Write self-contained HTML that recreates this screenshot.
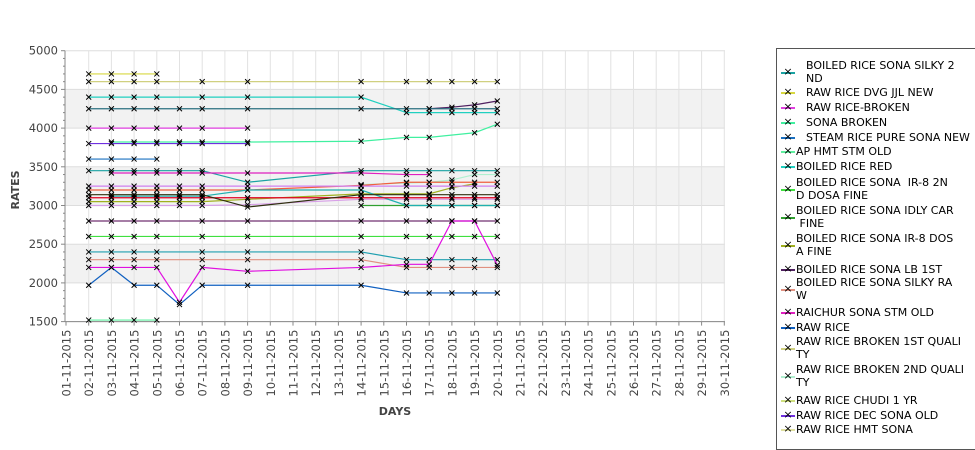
<!DOCTYPE html>
<html><head><meta charset="utf-8"><style>
body{margin:0;background:#fff;width:975px;height:429px;overflow:hidden;font-family:"DejaVu Sans","Liberation Sans",sans-serif;}
#legend{position:absolute;left:776px;top:48px;width:210px;height:400px;border:1px solid #555;background:#fff;}
.li{position:absolute;left:0;font-size:11px;color:#000;line-height:13px;white-space:nowrap;}
.li .mk{position:absolute;left:4px;width:14px;height:13px;}
.li .mk .ln{position:absolute;left:0;top:6px;width:14px;height:2px;}
.li .mk .x{position:absolute;left:0;top:-1px;width:14px;text-align:center;font-size:11px;color:#000;}
.li .tx{position:absolute;left:27px;}
</style></head><body>
<svg id="chart" width="975" height="429" style="position:absolute;left:0;top:0" xmlns="http://www.w3.org/2000/svg"></svg>
<div id="legend"></div>
<script>
const categories=["01-11-2015","02-11-2015","03-11-2015","04-11-2015","05-11-2015","06-11-2015","07-11-2015","08-11-2015","09-11-2015","10-11-2015","11-11-2015","12-11-2015","13-11-2015","14-11-2015","15-11-2015","16-11-2015","17-11-2015","18-11-2015","19-11-2015","20-11-2015","21-11-2015","22-11-2015","23-11-2015","24-11-2015","25-11-2015","26-11-2015","27-11-2015","28-11-2015","29-11-2015","30-11-2015"];
const yTicks=[1500,2000,2500,3000,3500,4000,4500,5000];
const seriesColors=["#1aa3a3","#d8d840","#e040e0","#40f0a0","#1a70c0","#60f0a0","#20d0c0","#40e040","#30a030","#a0b020","#502060","#e09080","#e020c0","#1060c0","#d0d080","#b0f0d0","#d8a0e8","#7030e0","#e0e0a0","#2a6f80","#f06040","#20b0b0","#d080f0","#e00020","#703070","#303010","#20a0b0","#e010e0"];
// category indexes with data
const D=[1,2,3,4,5,6,8,13,15,16,17,18,19];
const s0=[3450,3450,3450,3450,3450,3450,3300,3450,3450,3450,3450,3450,3450];
const s1=[4700,4700,4700,4700,null,null,null,null,null,null,null,null,null];
const s2=[4000,4000,4000,4000,4000,4000,4000,null,null,null,null,null,null];
const s3=[null,3820,3820,3820,3820,3820,3820,3830,3880,3880,null,3940,4050];
const s4=[3600,3600,3600,3600,null,null,null,null,null,null,null,null,null];
const s5=[1520,1520,1520,1520,null,null,null,null,null,null,null,null,null];
const s6=[4400,4400,4400,4400,null,4400,4400,4400,4200,4200,4200,4200,4200];
const s7=[2600,2600,2600,2600,null,2600,2600,2600,2600,2600,2600,2600,2600];
const s8=[null,null,null,null,null,null,null,3000,3000,3000,3000,3000,3000];
const s9=[3050,3050,3050,3050,3050,3050,3080,3150,3150,3150,3230,3280,null];
const s10=[null,null,null,null,null,null,null,null,null,4250,4270,4300,4350];
const s11=[2300,2300,2300,2300,null,2300,2300,2300,2200,2200,2200,2200,2200];
const s12=[null,3420,3420,3420,3420,3420,3420,3420,3400,3400,null,null,null];
const s13=[1970,2200,1970,1970,1720,1970,1970,1970,1870,1870,1870,1870,1870];
const s14=[4600,4600,4600,4600,null,4600,4600,4600,4600,4600,4600,4600,4600];
const s15=[null,null,null,null,null,null,null,3270,3290,3300,3330,3400,3400];
const s16=[3000,3000,3000,3000,3000,3000,3010,3080,3080,3080,3080,3080,3080];
const s17=[3800,3800,3800,3800,3800,3800,3800,null,null,null,null,null,null];
const s18=[null,null,null,null,null,null,null,null,null,null,null,null,null];
const s19=[4250,4250,4250,4250,4250,4250,4250,4250,4250,4250,4250,4250,4250];
const s20=[3200,3200,3200,3200,3200,3200,3200,3260,3300,3300,3300,3300,3300];
const s21=[null,3120,3120,3120,3120,3120,3200,3200,3000,3000,3000,3000,3000];
const s22=[3250,3250,3250,3250,3250,3250,3250,3250,3250,3250,3250,3250,3250];
const s23=[3100,3100,3100,3100,3100,3100,3100,3100,3100,3100,3100,3100,3100];
const s24=[2800,2800,2800,2800,null,2800,2800,2800,2800,2800,2800,2800,2800];
const s25=[3140,3140,3140,3140,3140,3140,2980,3140,3140,3140,3140,3140,3140];
const s26=[2400,2400,2400,2400,null,2400,2400,2400,2300,2300,2300,2300,2300];
const s27=[2200,2200,2200,2200,1750,2200,2150,2200,2240,2240,2800,2800,2230];
const seriesData=[s0,s1,s2,s3,s4,s5,s6,s7,s8,s9,s10,s11,s12,s13,s14,s15,s16,s17,s18,s19,s20,s21,s22,s23,s24,s25,s26,s27];

const NS="http://www.w3.org/2000/svg";
const svg=document.getElementById('chart');
const L=65,R=725,T=50.7,B=321.6;
const x=i=>66+22.7*i;
const y=v=>B-(v-1500)/3500*(B-T);
function el(t,a,p){const e=document.createElementNS(NS,t);for(const k in a)e.setAttribute(k,a[k]);(p||svg).appendChild(e);return e;}
for(let k=0;k<yTicks.length-1;k++){
  if(k%2===1){const b=el('rect',{x:L,y:y(yTicks[k+1]),width:R-L,height:y(yTicks[k])-y(yTicks[k+1]),fill:'#f2f2f2'});
  
  }
}
yTicks.forEach(v=>{const g=el('line',{x1:L,x2:R,y1:y(v),y2:y(v),stroke:'#ddd','stroke-width':1});


const t=el('text',{x:58,y:y(v)+4,'text-anchor':'end','font-size':11.5,fill:'#444'});t.textContent=v;


el('line',{x1:L-4,x2:L,y1:y(v),y2:y(v),stroke:'#888'});});
for(let v=1500;v<5000;v+=100){if(v%500)el('line',{x1:L-2,x2:L,y1:y(v),y2:y(v),stroke:'#888'});}
categories.forEach((c,i)=>{if(i>0){const g=el('line',{x1:x(i),x2:x(i),y1:T,y2:B,stroke:'#e2e2e2'});

}
el('line',{x1:x(i),x2:x(i),y1:B,y2:B+4,stroke:'#888'});
const t=el('text',{x:0,y:0,'text-anchor':'end','font-size':11.5,fill:'#444',transform:`translate(${x(i)+4.5},${B+8}) rotate(-90)`});t.textContent=c;

});
el('line',{x1:L,x2:L,y1:T,y2:B,stroke:'#888'});
el('line',{x1:L,x2:R,y1:B,y2:B,stroke:'#888'});
let at=el('text',{x:0,y:0,'font-size':11,'font-weight':'bold',fill:'#444','text-anchor':'middle',transform:'translate(19,190) rotate(-90)'});at.textContent='RATES';


at=el('text',{x:395,y:415,'font-size':11,'font-weight':'bold',fill:'#444','text-anchor':'middle'});at.textContent='DAYS';


seriesData.forEach((s,si)=>{
  const g=el('g',{});
  
  
  const pts=[];
  s.forEach((v,k)=>{if(v!=null)pts.push(x(D[k])+','+y(v));});
  if(pts.length>1)el('polyline',{points:pts.join(' '),fill:'none',stroke:seriesColors[si],'stroke-width':1.2},g);
  s.forEach((v,k)=>{if(v==null)return;const px=x(D[k]),py=y(v);
    const m=el('path',{d:`M${px-2.5},${py-2.5}L${px+2.5},${py+2.5}M${px-2.5},${py+2.5}L${px+2.5},${py-2.5}`,stroke:'#000','stroke-width':1},g);
    
    });
});
// legend: [line1, line2, top, color, indent]
const legItems=[["BOILED RICE SONA SILKY 2","ND",10,"#1aa3a3",1],["RAW RICE DVG JJL NEW","",37,"#d8d840",1],["RAW RICE-BROKEN","",52,"#e040e0",1],["SONA BROKEN","",67,"#40f0a0",1],["STEAM RICE PURE SONA NEW","",82,"#1a70c0",1],["AP HMT STM OLD","",96,"#60f0a0",0],["BOILED RICE RED","",111,"#20d0c0",0],["BOILED RICE SONA  IR-8 2N","D DOSA FINE",127,"#40e040",0],["BOILED RICE SONA IDLY CAR"," FINE",155,"#30a030",0],["BOILED RICE SONA IR-8 DOS","A FINE",183,"#a0b020",0],["BOILED RICE SONA LB 1ST","",214,"#502060",0],["BOILED RICE SONA SILKY RA","W",227,"#e09080",0],["RAICHUR SONA STM OLD","",257,"#e020c0",0],["RAW RICE","",272,"#1060c0",0],["RAW RICE BROKEN 1ST QUALI","TY",286,"#d0d080",0],["RAW RICE BROKEN 2ND QUALI","TY",314,"#b0f0d0",0],["RAW RICE CHUDI 1 YR","",345,"#d0e080",0],["RAW RICE DEC SONA OLD","",360,"#7030e0",0],["RAW RICE HMT SONA","",374,"#e0e0a0",0]];
const lg=document.getElementById('legend');
legItems.forEach(it=>{const d=document.createElement('div');d.className='li';d.style.top=it[2]+'px';


const two=it[1]!=="";
d.innerHTML=`<span class="mk" style="top:${two?7:0}px"><span class="ln" style="background:${it[3]}"></span><span class="x">×</span></span><span class="tx" style="left:${it[4]?29:19}px">${it[0].replace(/ /g,'&nbsp;')}${two?'<br>'+it[1].replace(/ /g,'&nbsp;'):''}</span>`;
lg.appendChild(d);});
</script>
</body></html>
